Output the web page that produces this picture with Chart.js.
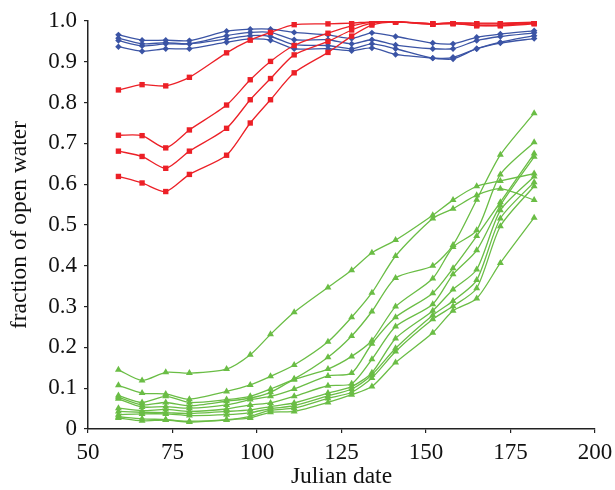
<!DOCTYPE html>
<html>
<head>
<meta charset="utf-8">
<script src="https://cdn.jsdelivr.net/npm/chart.js@4.4.1/dist/chart.umd.min.js"></script>
<style>
  html, body { margin: 0; padding: 0; background: #fff; }
  #wrap { width: 615px; height: 490px; }
</style>
</head>
<body>
<div id="wrap"><canvas id="myChart" width="615" height="490"></canvas></div>
<script>
// julian dates of the observations
var dates = [59, 66, 73, 80, 91, 98, 104, 111, 121, 128, 134, 141, 152, 158, 165, 172, 182];

// blue - diamonds
var blueData = [
  [0.966, 0.953, 0.953, 0.952, 0.975, 0.980, 0.980, 0.972, 0.966, 0.957, 0.971, 0.962, 0.946, 0.944, 0.960, 0.968, 0.976],
  [0.958, 0.944, 0.947, 0.944, 0.964, 0.972, 0.972, 0.954, 0.954, 0.944, 0.954, 0.941, 0.932, 0.932, 0.952, 0.962, 0.971],
  [0.952, 0.939, 0.944, 0.944, 0.956, 0.964, 0.962, 0.942, 0.940, 0.932, 0.944, 0.932, 0.909, 0.911, 0.932, 0.948, 0.964],
  [0.937, 0.926, 0.932, 0.932, 0.948, 0.956, 0.953, 0.932, 0.932, 0.927, 0.934, 0.918, 0.909, 0.907, 0.932, 0.946, 0.957]
];

// red - squares
var redData = [
  [0.831, 0.844, 0.841, 0.862, 0.922, 0.953, 0.972, 0.991, 0.993, 0.995, 0.998, 0.998, 0.993, 0.996, 0.993, 0.993, 0.996],
  [0.720, 0.719, 0.689, 0.733, 0.794, 0.856, 0.901, 0.940, 0.970, 0.988, 0.997, 0.999, 0.993, 0.995, 0.988, 0.990, 0.995],
  [0.681, 0.668, 0.639, 0.681, 0.737, 0.807, 0.859, 0.917, 0.950, 0.978, 0.995, 0.998, 0.993, 0.993, 0.990, 0.988, 0.993],
  [0.619, 0.603, 0.582, 0.624, 0.671, 0.750, 0.807, 0.873, 0.923, 0.963, 0.990, 0.997, 0.992, 0.995, 0.995, 0.995, 0.997]
];

// green - triangles
var greenData = [
  [0.145, 0.119, 0.139, 0.137, 0.147, 0.182, 0.232, 0.286, 0.347, 0.389, 0.432, 0.463, 0.524, 0.561, 0.595, 0.608, 0.626],
  [0.107, 0.088, 0.086, 0.073, 0.092, 0.108, 0.129, 0.157, 0.214, 0.274, 0.334, 0.424, 0.516, 0.540, 0.573, 0.589, 0.561],
  [0.082, 0.065, 0.080, 0.065, 0.072, 0.080, 0.098, 0.123, 0.176, 0.228, 0.288, 0.370, 0.400, 0.451, 0.562, 0.672, 0.774],
  [0.078, 0.059, 0.065, 0.057, 0.068, 0.076, 0.090, 0.121, 0.147, 0.178, 0.217, 0.300, 0.369, 0.446, 0.487, 0.624, 0.703],
  [0.074, 0.054, 0.055, 0.051, 0.059, 0.072, 0.080, 0.098, 0.130, 0.137, 0.209, 0.274, 0.333, 0.394, 0.473, 0.556, 0.675],
  [0.051, 0.045, 0.048, 0.043, 0.049, 0.059, 0.064, 0.080, 0.106, 0.111, 0.171, 0.251, 0.306, 0.379, 0.438, 0.548, 0.667],
  [0.043, 0.041, 0.040, 0.038, 0.043, 0.047, 0.055, 0.064, 0.088, 0.104, 0.138, 0.222, 0.290, 0.342, 0.391, 0.536, 0.619],
  [0.035, 0.037, 0.037, 0.033, 0.035, 0.040, 0.050, 0.057, 0.081, 0.098, 0.133, 0.198, 0.279, 0.314, 0.365, 0.516, 0.605],
  [0.030, 0.025, 0.023, 0.019, 0.023, 0.031, 0.046, 0.051, 0.075, 0.090, 0.125, 0.190, 0.269, 0.301, 0.345, 0.497, 0.595],
  [0.027, 0.020, 0.022, 0.017, 0.022, 0.027, 0.041, 0.043, 0.065, 0.084, 0.104, 0.163, 0.236, 0.290, 0.320, 0.407, 0.518]
];

var xTicks = [50, 75, 100, 125, 150, 175, 200];
var yTicks = [0, 0.1, 0.2, 0.3, 0.4, 0.5, 0.6, 0.7, 0.8, 0.9, 1.0];

var BLUE = 'rgb(59, 84, 165)';
var RED = 'rgb(236, 32, 39)';
var GREEN = 'rgb(106, 189, 69)';

function makeSet(vals, color, shape, size) {
  return {
    data: vals.map(function (v, i) { return { x: dates[i], y: v }; }),
    borderColor: color,
    backgroundColor: color,
    borderWidth: 1.3,
    pointStyle: shape,
    pointRadius: size,
    pointBorderWidth: 0,
    tension: 0.25
  };
}

var sets = [];
redData.forEach(function (d) { sets.push(makeSet(d, RED, 'rect', 3.8)); });
blueData.forEach(function (d) { sets.push(makeSet(d, BLUE, 'rectRot', 3.2)); });
greenData.forEach(function (d) { sets.push(makeSet(d, GREEN, 'triangle', 4)); });

var serif = "'Liberation Serif', 'DejaVu Serif', serif";

var ctx = document.getElementById("myChart").getContext('2d');
var chart = new Chart(ctx, {
  type: 'line',
  data: { datasets: sets },
  options: {
    responsive: false,
    animation: false,
    layout: { padding: { top: 21, right: 20, left: 0, bottom: 0 } },
    plugins: { legend: { display: false }, tooltip: { enabled: false } },
    scales: {
      x: {
        type: 'linear',
        min: 50, max: 200,
        afterBuildTicks: function (s) { s.ticks = xTicks.map(function (v) { return { value: v }; }); },
        afterFit: function (s) { s.height = 61; s.paddingLeft = 0; s.paddingRight = 0; },
        grid: { drawOnChartArea: false, drawTicks: true, tickLength: 4, color: '#222', lineWidth: 1.2 },
        border: { color: '#222', width: 1.5 },
        ticks: { color: '#111', font: { family: serif, size: 23 }, padding: 6, maxRotation: 0 },
        title: { display: true, text: 'Julian date', color: '#111', font: { family: serif, size: 23.5, lineHeight: 1 }, padding: { top: 0, bottom: 1 } }
      },
      y: {
        min: 0, max: 1,
        afterBuildTicks: function (s) { s.ticks = yTicks.map(function (v) { return { value: v }; }); },
        afterFit: function (s) { s.width = 88; s.paddingTop = 0; s.paddingBottom = 0; },
        grid: { drawOnChartArea: false, drawTicks: true, tickLength: 4, color: '#222', lineWidth: 1.2 },
        border: { color: '#222', width: 1.5 },
        ticks: {
          color: '#111', font: { family: serif, size: 23 }, padding: 7,
          callback: function (v) { return v === 0 ? '0' : v.toFixed(1); }
        },
        title: { display: true, text: 'fraction of open water', color: '#111', font: { family: serif, size: 23.5, lineHeight: 1 }, padding: { top: 8, bottom: 0 } }
      }
    }
  }
});
</script>
</body>
</html>
